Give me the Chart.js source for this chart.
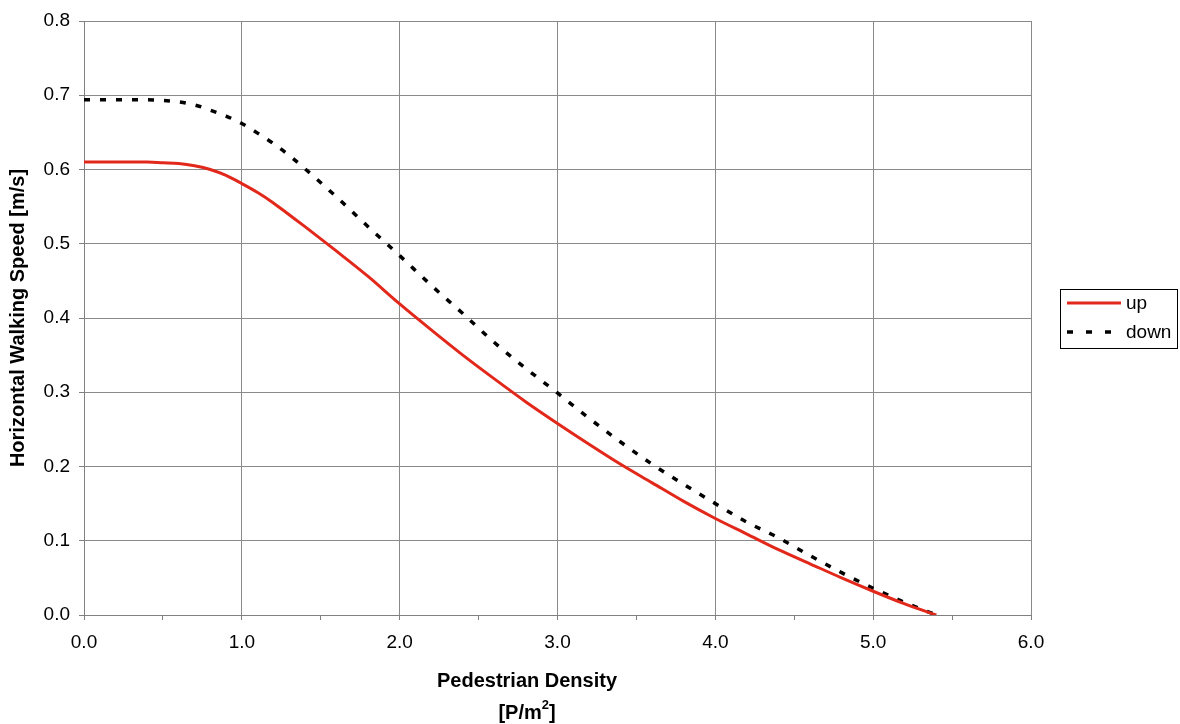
<!DOCTYPE html>
<html>
<head>
<meta charset="utf-8">
<script src="https://cdn.jsdelivr.net/npm/chart.js@4.4.1/dist/chart.umd.min.js"></script>
<style>
  html, body { margin: 0; padding: 0; background: #fff; }
  #wrap { width: 1180px; height: 724px; }
</style>
</head>
<body>
<div id="wrap"><canvas id="speed" width="1180" height="724"></canvas></div>
<script>
// pedestrian density [P/m2]
var density = [0, 0.2, 0.4, 0.5, 0.6, 0.7, 0.8, 0.9, 1.0, 1.1, 1.2, 1.3, 1.4, 1.6, 1.8, 2.0, 2.2, 2.4, 2.6, 2.8,
               3.0, 3.2, 3.4, 3.6, 3.8, 4.0, 4.2, 4.4, 4.6, 4.8, 5.0, 5.2, 5.4];
// horizontal walking speed [m/s]
var speedUp = [0.610, 0.610, 0.610, 0.609, 0.608, 0.605, 0.600, 0.592, 0.581, 0.569, 0.555, 0.539, 0.523,
               0.490, 0.456, 0.419, 0.384, 0.350, 0.318, 0.287, 0.258, 0.230, 0.203, 0.178, 0.153, 0.130,
               0.109, 0.088, 0.069, 0.050, 0.032, 0.015, 0.000];
var speedDown = [0.694, 0.694, 0.694, 0.693, 0.691, 0.687, 0.680, 0.672, 0.662, 0.649, 0.635, 0.619, 0.601,
                 0.563, 0.523, 0.484, 0.444, 0.406, 0.367, 0.332, 0.299, 0.265, 0.233, 0.203, 0.176, 0.150,
                 0.125, 0.104, 0.080, 0.057, 0.036, 0.017, 0.000];
var seriesNames = ['up', 'down'];
var xTitle = 'Pedestrian Density';
var xUnit = ['[P/m', '2', ']'];
var yTitle = 'Horizontal Walking Speed [m/s]';

var FONT = "'Liberation Sans', Arial, sans-serif";

function toPoints(ys) {
  var pts = [];
  for (var i in ys) {
    pts.push({x: density[i], y: ys[i]});
  }
  return pts;
}

// legend box and x axis title, drawn like the spreadsheet original
var extras = {
  id: 'extras',
  afterDraw: function(chart) {
    var c = chart.ctx;
    var ds = chart.data.datasets;
    c.save();
    // legend
    c.strokeStyle = '#000';
    c.lineWidth = 1;
    c.strokeRect(1060.5, 289.5, 117, 59);
    c.font = '19px ' + FONT;
    c.textBaseline = 'middle';
    c.textAlign = 'left';
    for (var i = 0; i < ds.length; i++) {
      var y = 303 + i * 29;
      c.beginPath();
      c.strokeStyle = ds[i].borderColor;
      c.lineWidth = ds[i].borderWidth;
      if (ds[i].borderDash) {
        c.setLineDash([6, 13]);
        c.moveTo(1067, y);
        c.lineTo(1112, y);
      } else {
        c.moveTo(1067, y);
        c.lineTo(1121, y);
      }
      c.stroke();
      c.setLineDash([]);
      c.fillStyle = '#000';
      c.fillText(ds[i].label, 1126, y + 1);
    }
    // x axis title
    c.font = 'bold 20px ' + FONT;
    c.textAlign = 'center';
    c.fillText(xTitle, 527, 681);
    // unit with superscript
    c.textAlign = 'left';
    var big = 'bold 20px ' + FONT, small = 'bold 13px ' + FONT;
    c.font = big;
    var w1 = c.measureText(xUnit[0]).width, w3 = c.measureText(xUnit[2]).width;
    c.font = small;
    var w2 = c.measureText(xUnit[1]).width;
    var x0 = 527 - (w1 + w2 + w3) / 2;
    c.font = big;
    c.fillText(xUnit[0], x0, 713);
    c.font = small;
    c.fillText(xUnit[1], x0 + w1, 705);
    c.font = big;
    c.fillText(xUnit[2], x0 + w1 + w2, 713);
    c.restore();
  }
};

var chartdata = {
  datasets: [
    {
      label: seriesNames[0],
      data: toPoints(speedUp),
      borderColor: '#e2281b',
      borderWidth: 3,
      pointRadius: 0,
      cubicInterpolationMode: 'monotone',
      fill: false
    },
    {
      label: seriesNames[1],
      data: toPoints(speedDown),
      borderColor: '#000000',
      borderWidth: 3.5,
      borderDash: [6, 10],
      borderCapStyle: 'butt',
      pointRadius: 0,
      cubicInterpolationMode: 'monotone',
      fill: false
    }
  ]
};

var ctx = document.getElementById('speed');

var lineGraph = new Chart(ctx, {
  type: 'line',
  data: chartdata,
  plugins: [extras],
  options: {
    responsive: false,
    animation: false,
    layout: { padding: { left: 0, right: 149, top: 21, bottom: 0 } },
    plugins: {
      legend: { display: false },
      tooltip: { enabled: false }
    },
    scales: {
      x: {
        type: 'linear',
        min: 0,
        max: 6,
        afterFit: function(scale) { scale.height = 109; },
        border: { color: '#808080', width: 1 },
        grid: {
          color: function(c) { return (c.tick && c.tick.value % 1 === 0) ? '#8a8a8a' : 'rgba(0,0,0,0)'; },
          tickColor: '#808080',
          tickLength: 5,
          lineWidth: 1
        },
        ticks: {
          stepSize: 0.5,
          color: '#000',
          padding: 11,
          maxRotation: 0,
          autoSkip: false,
          font: { family: FONT, size: 19 },
          callback: function(v) { return (v % 1 === 0) ? v.toFixed(1) : ''; }
        }
      },
      y: {
        min: 0,
        max: 0.8,
        afterFit: function(scale) { scale.width = 84; },
        border: { color: '#808080', width: 1 },
        grid: { color: '#8a8a8a', tickColor: '#808080', tickLength: 5, lineWidth: 1 },
        ticks: {
          stepSize: 0.1,
          color: '#000',
          padding: 9,
          font: { family: FONT, size: 19 },
          callback: function(v) { return v.toFixed(1); }
        },
        title: {
          display: true,
          text: yTitle,
          color: '#000',
          padding: { top: 6, bottom: 4 },
          font: { family: FONT, size: 20, weight: 'bold' }
        }
      }
    }
  }
});
</script>
</body>
</html>
